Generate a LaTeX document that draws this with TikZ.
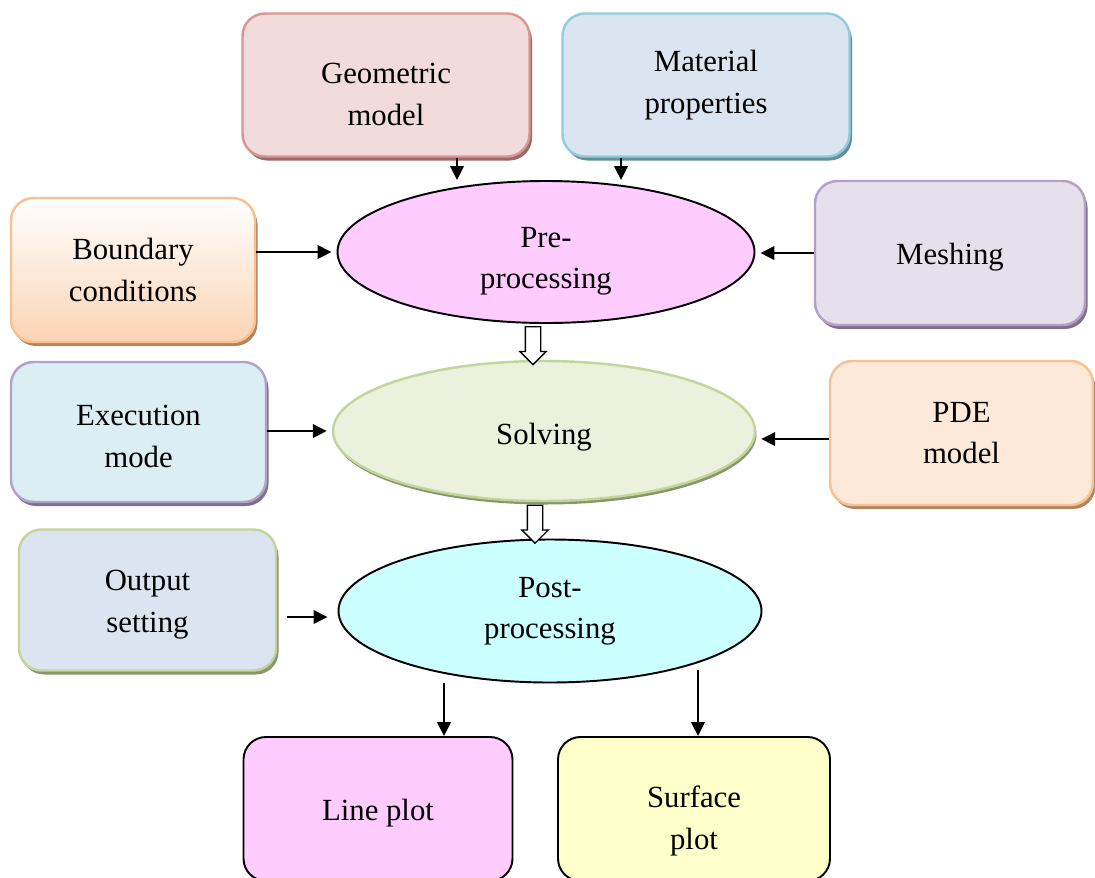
\documentclass[tikz,border=0pt]{standalone}
\usepackage{fontspec}
\setmainfont{Liberation Serif}
\usetikzlibrary{shapes.geometric,shapes.arrows,shadows,arrows.meta,calc}

\definecolor{geoFill}{HTML}{F2DCDB}
\definecolor{geoLine}{HTML}{D99694}
\definecolor{matFill}{HTML}{DBE5F1}
\definecolor{matLine}{HTML}{92CDDC}
\definecolor{bcBot}{HTML}{FBD4B4}
\definecolor{bcLine}{HTML}{FAC08F}
\definecolor{meshFill}{HTML}{E5E0EC}
\definecolor{meshLine}{HTML}{B2A2C7}
\definecolor{exeFill}{HTML}{DAEEF3}
\definecolor{pdeFill}{HTML}{FDE9D9}
\definecolor{outFill}{HTML}{DBE5F1}
\definecolor{greenLine}{HTML}{C2D69B}
\definecolor{solveFill}{HTML}{EBF1DD}
\definecolor{pinkFill}{HTML}{FFCCFF}
\definecolor{postFill}{HTML}{CCFFFF}
\definecolor{surfFill}{HTML}{FFFFCC}

% lowers a node text by enlarging its first line
\newcommand{\topgap}[1]{\rule{0pt}{#1}}

\begin{document}
\begin{tikzpicture}[
    txt/.style={align=center, font=\fontsize{17.5}{23.6}\selectfont},
    box/.style={txt, rectangle, rounded corners=0.45cm, draw=#1, line width=1.4pt,
        general shadow={shadow xshift=0.05cm, shadow yshift=-0.08cm, fill=#1!70!black}},
    plotbox/.style={txt, rectangle, rounded corners=0.45cm, draw, line width=1.1pt,
        minimum height=2.88cm},
    stage/.style={txt, ellipse, inner sep=0pt, line width=1.1pt},
    arr/.style={-{Triangle[length=0.28cm,width=0.27cm]}, line width=1.1pt},
    hollow/.style={single arrow, draw, fill=white, line width=0.8pt, shape border rotate=270,
        inner sep=0.14cm, single arrow head extend=0.11cm, minimum height=0.76cm}
]
    \useasboundingbox (0,0) rectangle (21.9,-17.54);

    % inputs
    \node[box=geoLine, fill=geoFill, minimum width=5.74cm, minimum height=2.86cm] (geo) at (7.72,-1.70) {\topgap{0.79cm}Geometric\\model};
    \node[box=matLine, fill=matFill, minimum width=5.74cm, minimum height=2.86cm] (mat) at (14.12,-1.70) {Material\\properties};
    \node[box=bcLine, top color=white, bottom color=bcBot, minimum width=4.88cm, minimum height=2.88cm] (bc) at (2.66,-5.40) {Boundary\\conditions};
    \node[box=meshLine, fill=meshFill, minimum width=5.40cm, minimum height=2.88cm] (mesh) at (19.0,-5.06) {\topgap{0.6cm}Meshing};
    \node[box=meshLine, fill=exeFill, minimum width=5.10cm, minimum height=2.80cm] (exe) at (2.77,-8.64) {\topgap{0.59cm}Execution\\mode};
    \node[box=bcLine, fill=pdeFill, minimum width=5.26cm, minimum height=2.88cm] (pde) at (19.23,-8.66) {PDE\\model};
    \node[box=greenLine, fill=outFill, minimum width=5.14cm, minimum height=2.82cm] (out) at (2.95,-12.0) {\topgap{0.59cm}Output\\setting};

    % stages
    \node[stage, draw, fill=pinkFill, minimum width=8.34cm, minimum height=2.84cm] (pre) at (10.92,-5.04) {\topgap{0.78cm}Pre-\\processing};
    \node[stage, draw=greenLine, line width=1.4pt, fill=solveFill, minimum width=8.44cm, minimum height=2.80cm,
        general shadow={shadow xshift=0.03cm, shadow yshift=-0.07cm, fill=greenLine!70!black}] (solve) at (10.88,-8.62) {\topgap{0.66cm}Solving};
    \node[stage, draw, fill=postFill, minimum width=8.46cm, minimum height=2.86cm] (post) at (11.0,-12.22) {Post-\\processing};

    % results
    \node[plotbox, fill=pinkFill, minimum width=5.38cm] (lp) at (7.56,-16.18) {\topgap{0.6cm}Line plot};
    \node[plotbox, fill=surfFill, minimum width=5.44cm] (sp) at (13.88,-16.18) {\topgap{0.91cm}Surface\\plot};

    \draw[arr] ([xshift=1.42cm]geo.south) -- ([xshift=1.42cm]geo.south |- pre.north);
    \draw[arr] ([xshift=-1.70cm]mat.south) -- ([xshift=-1.70cm]mat.south |- pre.north);
    \draw[arr, shorten >=0.1cm] (bc.east |- pre.west) -- (pre.west);
    \draw[arr, shorten >=0.1cm] (mesh.west) -- (mesh.west -| pre.east);
    \draw[arr, shorten >=0.1cm] (exe.east |- solve.west) -- (solve.west);
    \draw[arr, shorten >=0.1cm] ([yshift=-0.12cm]pde.west) -- ([yshift=-0.12cm]pde.west -| solve.east);
    \draw[arr, shorten <=0.2cm, shorten >=0.2cm] ([yshift=-0.12cm]out.east |- post.west) -- ([yshift=-0.12cm]post.west);
    \draw[arr] ([xshift=1.32cm]lp.north |- post.south) -- ([xshift=1.32cm]lp.north);
    \draw[arr] ($(sp.north |- post.south)+(0.08,0.26)$) -- ([xshift=0.08cm]sp.north);

    \node[hollow] (a1) at ($(pre.south)!0.5!(solve.north)+(-0.24,0)$) {};
    \node[hollow] (a2) at ($(solve.south)!0.5!(post.north)+(-0.24,0)$) {};
\end{tikzpicture}
\end{document}
